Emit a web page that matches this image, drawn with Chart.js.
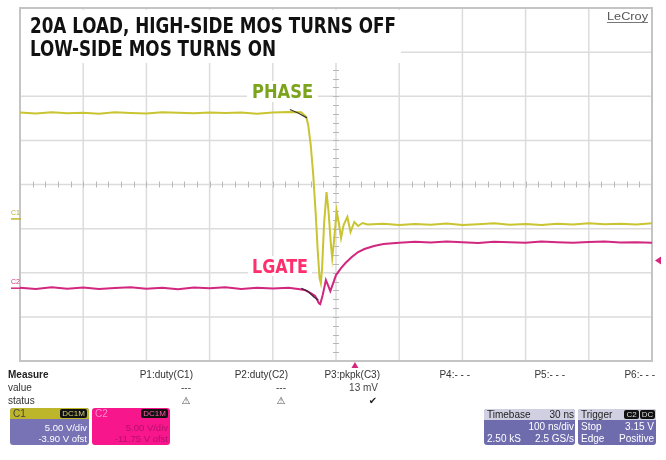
<!DOCTYPE html>
<html>
<head>
<meta charset="utf-8">
<script src="https://cdn.jsdelivr.net/npm/chart.js@4.4.1/dist/chart.umd.min.js"></script>
<style>
  html, body { margin: 0; padding: 0; background: #fff; }
  canvas { display: block; }
</style>
</head>
<body>
<canvas id="scope" width="666" height="460"></canvas>
<script>
// time in ns (100 ns/div), C1 = PHASE volts, C2 = LGATE volts
const phaseTime = [-500, -475, -450, -425, -400, -375, -350, -325, -300, -275, -250, -225, -200, -175, -150, -125, -100, -75,
  -60, -55, -47, -44, -40, -36, -32, -29, -26, -24, -22, -19, -15, -12, -8, -6, -3, 1, 5, 8, 12, 18, 23, 29, 35, 42,
  50, 75, 100, 125, 150, 175, 200, 225, 250, 275, 300, 325, 350, 375, 400, 425, 450, 475, 500];
const phaseVolts = [12.05, 11.95, 12.1, 11.98, 12.04, 11.92, 12.08, 12.0, 11.94, 12.1, 12.02, 11.96, 12.07, 11.99, 12.05, 11.93, 12.06, 12.12,
  12.1, 12.08, 11.55, 10.65, 8.4, 4.98, 0.44, -3.53, -6.7, -7.27, -5.57, -0.69, 3.05, 1.01, -2.96, -4.43, -2.39, 0.9, -0.69, -2.16, -0.69, 0.22, -1.48, -0.35, -0.8, -0.46,
  -0.62, -0.55, -0.7, -0.58, -0.66, -0.52, -0.68, -0.6, -0.5, -0.65, -0.57, -0.7, -0.54, -0.62, -0.48, -0.6, -0.55, -0.64, -0.5];

const lgateTime = [-500, -475, -450, -425, -400, -375, -350, -325, -300, -275, -250, -225, -200, -175, -150, -125, -100, -75,
  -60, -50, -40, -33, -27, -25, -21, -16, -12, -9, -5, 0, 8, 15, 25, 35, 45, 60, 75,
  100, 125, 150, 175, 200, 225, 250, 275, 300, 325, 350, 375, 400, 425, 450, 475, 500];
const lgateVolts = [0.05, -0.08, 0.1, -0.05, 0.08, -0.1, 0.02, 0.12, -0.06, 0.04, -0.12, 0.07, -0.02, 0.1, -0.08, 0.05, -0.04, 0.06,
  -0.1, -0.2, -0.55, -0.89, -1.7, -1.8, -0.78, 0.92, 0.24, -0.33, 0.47, 1.49, 2.28, 2.85, 3.53, 4.1, 4.44, 4.78, 5.0,
  5.15, 5.25, 5.18, 5.3, 5.2, 5.12, 5.26, 5.22, 5.16, 5.28, 5.2, 5.14, 5.24, 5.3, 5.18, 5.22, 5.15];

// dark reference trace segments
const phaseRefTime = [-73, -60, -46];
const phaseRefVolts = [12.4, 12.0, 11.45];
const lgateRefTime = [-55, -45, -35, -28];
const lgateRefVolts = [0.0, -0.33, -1.0, -1.35];

// grid divisions
const timeGrid = [-500, -400, -300, -200, -100, 0, 100, 200, 300, 400, 500];
const divGrid = [-4, -3, -2, -1, 0, 1, 2, 3, 4];

// channel settings
const c1Scale = 5.0, c1Offset = -3.90;
const c2Scale = 5.0, c2Offset = -11.75;
const triggerDelay = 30, triggerLevel = 3.15;

const titleLines = ['20A LOAD, HIGH-SIDE MOS TURNS OFF', 'LOW-SIDE MOS TURNS ON'];
const measureHeads = ['P1:duty(C1)', 'P2:duty(C2)', 'P3:pkpk(C3)', 'P4:- - -', 'P5:- - -', 'P6:- - -'];
const measureValues = ['---', '---', '13 mV', '', '', ''];
const measureStatus = ['warn', 'warn', 'ok', '', '', ''];

const pts = (ts, vs) => ts.map((t, i) => ({ x: t, y: vs[i] }));

const SANS = '"Liberation Sans", Arial, sans-serif';
const NARROW = '"Liberation Sans Narrow", "DejaVu Sans Condensed", "Liberation Sans", sans-serif';

function fitText(ctx, s, x, y, w, font, color) {
  ctx.save();
  ctx.font = font;
  ctx.fillStyle = color;
  ctx.textAlign = 'left';
  ctx.textBaseline = 'alphabetic';
  const m = ctx.measureText(s).width;
  ctx.translate(x, y);
  ctx.scale(w / m, 1);
  ctx.fillText(s, 0, 0);
  ctx.restore();
}

function text(ctx, s, x, y, font, color, align) {
  ctx.font = font;
  ctx.fillStyle = color;
  ctx.textAlign = align || 'left';
  ctx.textBaseline = 'middle';
  ctx.fillText(s, x, y);
}

function rrect(ctx, x, y, w, h, r, fill) {
  ctx.beginPath();
  ctx.roundRect(x, y, w, h, r);
  ctx.fillStyle = fill;
  ctx.fill();
}

function pill(ctx, x, y, w, label, color) {
  rrect(ctx, x, y, w, 9, 2, '#111');
  text(ctx, label, x + w / 2, y + 5, '8px ' + SANS, color, 'center');
}

const scopeGrid = {
  id: 'scopeGrid',
  beforeDraw(chart) {
    const ctx = chart.ctx;
    ctx.save();
    ctx.fillStyle = '#fff';
    ctx.fillRect(0, 0, chart.width, chart.height);
    ctx.restore();
  },
  beforeDatasetsDraw(chart) {
    const { ctx, chartArea: a, scales } = chart;
    const x = scales.x, yd = scales.yd;
    ctx.save();
    ctx.strokeStyle = '#dcdcdc';
    ctx.lineWidth = 1.5;
    ctx.beginPath();
    timeGrid.forEach(t => {
      const px = x.getPixelForValue(t);
      ctx.moveTo(px, a.top); ctx.lineTo(px, a.bottom);
    });
    divGrid.forEach(d => {
      const py = yd.getPixelForValue(d);
      ctx.moveTo(a.left, py); ctx.lineTo(a.right, py);
    });
    ctx.stroke();

    // minor ticks on the centre axes
    const cx = x.getPixelForValue(0), cy = yd.getPixelForValue(0);
    ctx.strokeStyle = '#b8b8b8';
    ctx.lineWidth = 1;
    ctx.beginPath();
    for (let t = -480; t < 500; t += 20) {
      const px = Math.round(x.getPixelForValue(t)) + 0.5;
      ctx.moveTo(px, cy - 3); ctx.lineTo(px, cy + 3);
    }
    for (let d = -3.8; d < 4; d += 0.2) {
      const py = Math.round(yd.getPixelForValue(d)) + 0.5;
      ctx.moveTo(cx - 3, py); ctx.lineTo(cx + 3, py);
    }
    ctx.stroke();

    // frame
    ctx.strokeStyle = '#c4c4c4';
    ctx.lineWidth = 2;
    ctx.strokeRect(a.left, a.top, a.width, a.height);
    ctx.restore();
  }
};

const scopeOverlay = {
  id: 'scopeOverlay',
  afterDraw(chart) {
    const { ctx, chartArea: a, scales } = chart;
    ctx.save();

    // title block
    ctx.fillStyle = '#fff';
    ctx.fillRect(21, 10, 380, 53);
    fitText(ctx, titleLines[0], 30, 33, 366, 'bold 21px ' + NARROW, '#111');
    fitText(ctx, titleLines[1], 30, 56, 246, 'bold 21px ' + NARROW, '#111');

    // LeCroy
    fitText(ctx, 'LeCroy', 607, 20, 41, '11px ' + SANS, '#555');
    ctx.strokeStyle = '#777';
    ctx.lineWidth = 1;
    ctx.beginPath(); ctx.moveTo(607, 22.5); ctx.lineTo(648, 22.5); ctx.stroke();

    // trace labels
    ctx.fillStyle = '#fff';
    ctx.fillRect(247, 81, 71, 21);
    fitText(ctx, 'PHASE', 252, 98, 61, 'bold 19px ' + NARROW, '#7ba31b');
    ctx.fillStyle = '#fff';
    ctx.fillRect(248, 256, 64, 20);
    fitText(ctx, 'LGATE', 252, 273, 56, 'bold 19px ' + NARROW, '#ff2e6c');

    // channel ground markers
    const g1 = scales.y1.getPixelForValue(0), g2 = scales.y2.getPixelForValue(0);
    text(ctx, 'C1', 11, g1 - 6, '7px ' + SANS, '#b5ad3a');
    text(ctx, 'C2', 11, g2 - 6, '7px ' + SANS, '#c63a86');
    ctx.lineWidth = 1.5;
    ctx.strokeStyle = '#bdb52e';
    ctx.beginPath(); ctx.moveTo(11, g1); ctx.lineTo(21, g1); ctx.stroke();
    ctx.strokeStyle = '#d1277f';
    ctx.beginPath(); ctx.moveTo(11, g2); ctx.lineTo(21, g2); ctx.stroke();

    // trigger markers
    const tl = scales.y2.getPixelForValue(triggerLevel);
    ctx.fillStyle = '#d6267f';
    ctx.beginPath(); ctx.moveTo(655, tl); ctx.lineTo(661, tl - 4); ctx.lineTo(661, tl + 4); ctx.closePath(); ctx.fill();
    const tx = scales.x.getPixelForValue(triggerDelay);
    ctx.beginPath(); ctx.moveTo(tx, a.bottom + 1); ctx.lineTo(tx - 3.5, a.bottom + 7); ctx.lineTo(tx + 3.5, a.bottom + 7); ctx.closePath(); ctx.fill();

    // measure table
    text(ctx, 'Measure', 8, 375, 'bold 10px ' + SANS, '#222');
    text(ctx, 'value', 8, 388, '10px ' + SANS, '#333');
    text(ctx, 'status', 8, 401, '10px ' + SANS, '#333');
    const colRight = [193, 288, 380, 470, 565, 655];
    measureHeads.forEach((h, i) => {
      text(ctx, h, colRight[i], 375, '10px ' + SANS, '#333', 'right');
      if (measureValues[i]) text(ctx, measureValues[i], colRight[i] - 2, 388, '10px ' + SANS, '#444', 'right');
      if (measureStatus[i] === 'warn') text(ctx, '\u26A0', colRight[i] - 7, 401, '10px "DejaVu Sans"', '#555', 'center');
      if (measureStatus[i] === 'ok') text(ctx, '\u2714', colRight[i] - 7, 401, '10px "DejaVu Sans"', '#222', 'center');
    });

    // C1 box
    rrect(ctx, 10, 408, 79, 37, 3, '#7773b5');
    ctx.save();
    ctx.beginPath(); ctx.roundRect(10, 408, 79, 37, 3); ctx.clip();
    ctx.fillStyle = '#bdb52a'; ctx.fillRect(10, 408, 79, 11);
    ctx.restore();
    text(ctx, 'C1', 13, 414, '10px ' + SANS, '#444');
    pill(ctx, 60, 409, 27, 'DC1M', '#d8d070');
    text(ctx, c1Scale.toFixed(2) + ' V/div', 87, 428, '9.5px ' + SANS, '#fff', 'right');
    text(ctx, c1Offset.toFixed(2) + ' V ofst', 87, 439, '9.5px ' + SANS, '#fff', 'right');

    // C2 box
    rrect(ctx, 92, 408, 78, 37, 3, '#f8168c');
    text(ctx, 'C2', 95, 414, '10px ' + SANS, '#ff8ccc');
    pill(ctx, 141, 409, 27, 'DC1M', '#ff5aa8');
    text(ctx, c2Scale.toFixed(2) + ' V/div', 168, 428, '9.5px ' + SANS, '#b80e6c', 'right');
    text(ctx, c2Offset.toFixed(2) + ' V ofst', 168, 439, '9.5px ' + SANS, '#b80e6c', 'right');

    // Timebase box
    rrect(ctx, 484, 409, 91, 36, 3, '#6f6cae');
    ctx.save();
    ctx.beginPath(); ctx.roundRect(484, 409, 91, 36, 3); ctx.clip();
    ctx.fillStyle = '#d0d0e2'; ctx.fillRect(484, 409, 91, 11);
    ctx.restore();
    text(ctx, 'Timebase', 487, 415, '10px ' + SANS, '#222');
    text(ctx, triggerDelay + ' ns', 574, 415, '10px ' + SANS, '#222', 'right');
    text(ctx, '100 ns/div', 574, 427, '10px ' + SANS, '#fff', 'right');
    text(ctx, '2.50 kS', 487, 439, '10px ' + SANS, '#fff');
    text(ctx, '2.5 GS/s', 574, 439, '10px ' + SANS, '#fff', 'right');

    // Trigger box
    rrect(ctx, 578, 409, 78, 36, 3, '#6f6cae');
    ctx.save();
    ctx.beginPath(); ctx.roundRect(578, 409, 78, 36, 3); ctx.clip();
    ctx.fillStyle = '#d0d0e2'; ctx.fillRect(578, 409, 78, 11);
    ctx.restore();
    text(ctx, 'Trigger', 581, 415, '10px ' + SANS, '#222');
    pill(ctx, 624, 410, 15, 'C2', '#ddd');
    pill(ctx, 640, 410, 15, 'DC', '#ddd');
    text(ctx, 'Stop', 581, 427, '10px ' + SANS, '#fff');
    text(ctx, triggerLevel.toFixed(2) + ' V', 654, 427, '10px ' + SANS, '#fff', 'right');
    text(ctx, 'Edge', 581, 439, '10px ' + SANS, '#fff');
    text(ctx, 'Positive', 654, 439, '10px ' + SANS, '#fff', 'right');

    ctx.restore();
  }
};

new Chart(document.getElementById('scope'), {
  type: 'line',
  data: {
    datasets: [
      { label: 'PHASE ref', data: pts(phaseRefTime, phaseRefVolts), yAxisID: 'y1', borderColor: '#3b3a2c', borderWidth: 1.2, pointRadius: 0 },
      { label: 'LGATE ref', data: pts(lgateRefTime, lgateRefVolts), yAxisID: 'y2', borderColor: '#3a2030', borderWidth: 1.2, pointRadius: 0 },
      { label: 'PHASE', data: pts(phaseTime, phaseVolts), yAxisID: 'y1', borderColor: '#c9c431', borderWidth: 2, pointRadius: 0 },
      { label: 'LGATE', data: pts(lgateTime, lgateVolts), yAxisID: 'y2', borderColor: '#d1277f', borderWidth: 2, pointRadius: 0 }
    ]
  },
  options: {
    responsive: false,
    animation: false,
    events: [],
    layout: { padding: { left: 20, top: 8, right: 14, bottom: 99 } },
    plugins: { legend: { display: false }, tooltip: { enabled: false } },
    scales: {
      x: { type: 'linear', min: -500, max: 500, display: false },
      yd: { type: 'linear', min: -4, max: 4, display: false },
      y1: { type: 'linear', min: -4 * c1Scale - c1Offset, max: 4 * c1Scale - c1Offset, display: false },
      y2: { type: 'linear', min: -4 * c2Scale - c2Offset, max: 4 * c2Scale - c2Offset, display: false }
    }
  },
  plugins: [scopeGrid, scopeOverlay]
});
</script>
</body>
</html>
